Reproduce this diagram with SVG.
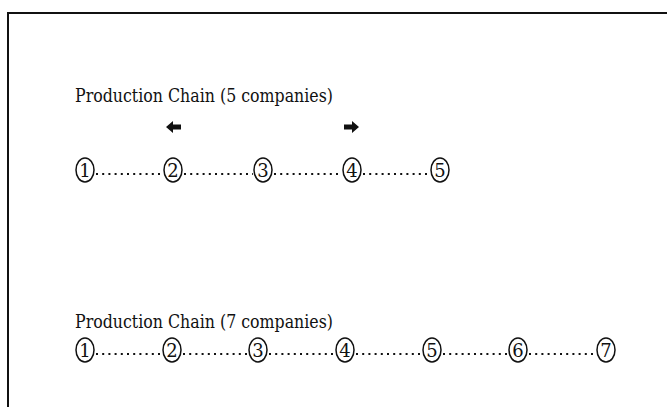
<svg xmlns="http://www.w3.org/2000/svg" width="667" height="407" viewBox="0 0 667 407">
  <style>
    .title { font-family: "DejaVu Serif", "Liberation Serif", serif; font-size: 18.5px; fill: #111; }
    .num { font-family: "DejaVu Serif", "Liberation Serif", serif; font-size: 18px; fill: #111; text-anchor: middle; }
    .ring { fill: #fff; stroke: #111; stroke-width: 1.5; }
    .dots { stroke: #111; stroke-width: 2; stroke-dasharray: 2 4.2; fill: none; }
    .frame { fill: none; stroke: #111; stroke-width: 2; }
    .arrow { fill: #111; }
  </style>
  <defs>
    <g id="ring">
      <ellipse class="ring" cx="0" cy="0" rx="9" ry="12"/>
    </g>
  </defs>
  <rect width="667" height="407" fill="#fff"/>
  <!-- open frame: top and left edges -->
  <path class="frame" d="M8 407 V13 H667"/>

  <!-- chain of five -->
  <text class="title" x="75" y="102" textLength="258" lengthAdjust="spacingAndGlyphs">Production Chain (5 companies)</text>
  <polygon class="arrow" points="166,127 173,121 173,124.5 181,124.5 181,129.5 173,129.5 173,133"/>
  <polygon class="arrow" points="359,127 352,121 352,124.5 344,124.5 344,129.5 352,129.5 352,133"/>

  <g id="connectors-5">
    <line class="dots" x1="96" y1="174" x2="163" y2="174"/>
    <line class="dots" x1="184" y1="174" x2="253" y2="174"/>
    <line class="dots" x1="274" y1="174" x2="342" y2="174"/>
    <line class="dots" x1="363" y1="174" x2="430" y2="174"/>
  </g>
  <g id="c5-1"><use href="#ring" x="85" y="170"/><text class="num" x="85" y="176.5">1</text></g>
  <g id="c5-2"><use href="#ring" x="173" y="170"/><text class="num" x="173" y="176.5">2</text></g>
  <g id="c5-3"><use href="#ring" x="263" y="170"/><text class="num" x="263" y="176.5">3</text></g>
  <g id="c5-4"><use href="#ring" x="352" y="170"/><text class="num" x="352" y="176.5">4</text></g>
  <g id="c5-5"><use href="#ring" x="440" y="170"/><text class="num" x="440" y="176.5">5</text></g>

  <!-- chain of seven -->
  <text class="title" x="75" y="328" textLength="258" lengthAdjust="spacingAndGlyphs">Production Chain (7 companies)</text>
  <g id="connectors-7">
    <line class="dots" x1="96" y1="354" x2="162" y2="354"/>
    <line class="dots" x1="183" y1="354" x2="248" y2="354"/>
    <line class="dots" x1="269" y1="354" x2="335" y2="354"/>
    <line class="dots" x1="356" y1="354" x2="422" y2="354"/>
    <line class="dots" x1="443" y1="354" x2="508" y2="354"/>
    <line class="dots" x1="529" y1="354" x2="596" y2="354"/>
  </g>
  <g id="c7-1"><use href="#ring" x="85" y="350"/><text class="num" x="85" y="356.5">1</text></g>
  <g id="c7-2"><use href="#ring" x="172" y="350"/><text class="num" x="172" y="356.5">2</text></g>
  <g id="c7-3"><use href="#ring" x="258" y="350"/><text class="num" x="258" y="356.5">3</text></g>
  <g id="c7-4"><use href="#ring" x="345" y="350"/><text class="num" x="345" y="356.5">4</text></g>
  <g id="c7-5"><use href="#ring" x="432" y="350"/><text class="num" x="432" y="356.5">5</text></g>
  <g id="c7-6"><use href="#ring" x="518" y="350"/><text class="num" x="518" y="356.5">6</text></g>
  <g id="c7-7"><use href="#ring" x="606" y="350"/><text class="num" x="606" y="356.5">7</text></g>
</svg>
